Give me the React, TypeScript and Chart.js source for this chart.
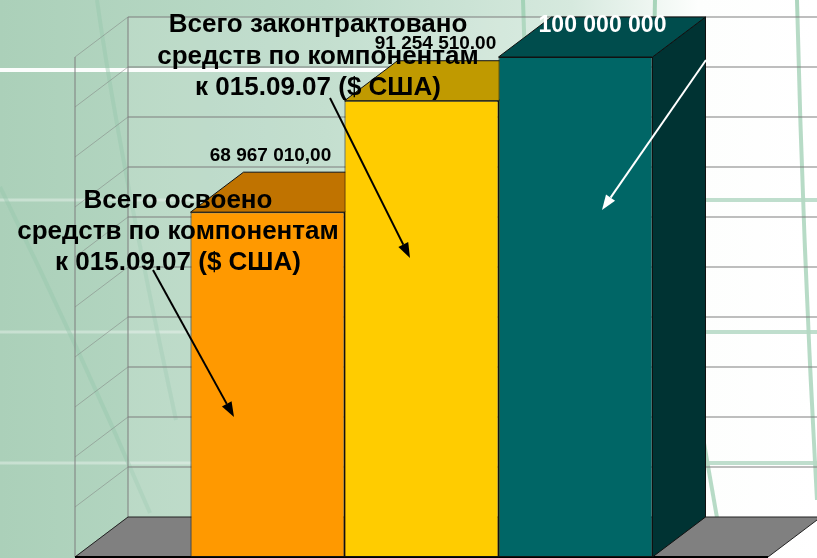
import React, { useEffect, useRef } from "react";
import { Chart, registerables } from "chart.js";

Chart.register(...registerables);

// ---- data ----
const CATEGORIES = ["015.09.07"];
const SERIES_NAMES = ["Всего освоено", "Всего законтрактовано", "Всего"];
const SERIES_VALUES = [68967010, 91254510, 100000000];
const VALUE_LABELS = ["68 967 010,00", "91 254 510.00", "100 000 000"];
const Y_MIN = 0;
const Y_MAX = 100000000;
const Y_STEP = 10000000;
const NOTE_SPENT = ["Всего освоено", "средств по компонентам", "к 015.09.07 ($ США)"];
const NOTE_CONTRACTED = ["Всего законтрактовано", "средств по компонентам", "к 015.09.07 ($ США)"];

// ---- style ----
const FRONT_COLORS = ["#FF9900", "#FFCC00", "#006666"];
const TOP_COLORS = ["#C07300", "#C09A00", "#004D4D"];
const SIDE_COLORS = ["#A05F00", "#A08000", "#003333"];
const LABEL_COLORS = ["#000000", "#000000", "#FFFFFF"];
const LABEL_SIZES = [19, 19, 23];
const LABEL_DX = [3, 14, 27];
const LABEL_DY = [-51, -52, -25];
const DEPTH_X = 53;
const DEPTH_Y = -40;
const FONT = '"Liberation Sans", Arial, sans-serif';

function arrow(ctx: CanvasRenderingContext2D, x1: number, y1: number, x2: number, y2: number, color: string) {
  const ang = Math.atan2(y2 - y1, x2 - x1);
  const len = 15;
  const hw = 5.5;
  const bx = x2 - Math.cos(ang) * len;
  const by = y2 - Math.sin(ang) * len;
  ctx.save();
  ctx.strokeStyle = color;
  ctx.fillStyle = color;
  ctx.lineWidth = 2;
  ctx.beginPath();
  ctx.moveTo(x1, y1);
  ctx.lineTo(bx, by);
  ctx.stroke();
  ctx.beginPath();
  ctx.moveTo(x2, y2);
  ctx.lineTo(bx + Math.sin(ang) * hw, by - Math.cos(ang) * hw);
  ctx.lineTo(bx - Math.sin(ang) * hw, by + Math.cos(ang) * hw);
  ctx.closePath();
  ctx.fill();
  ctx.restore();
}

function line(ctx: CanvasRenderingContext2D, pts: number[][], color: string, w: number) {
  ctx.save();
  ctx.strokeStyle = color;
  ctx.lineWidth = w;
  ctx.beginPath();
  ctx.moveTo(pts[0][0], pts[0][1]);
  if (pts.length === 3) ctx.quadraticCurveTo(pts[1][0], pts[1][1], pts[2][0], pts[2][1]);
  else for (let i = 1; i < pts.length; i++) ctx.lineTo(pts[i][0], pts[i][1]);
  ctx.stroke();
  ctx.restore();
}

function poly(ctx: CanvasRenderingContext2D, pts: number[][], fill: string, stroke?: string) {
  ctx.beginPath();
  ctx.moveTo(pts[0][0], pts[0][1]);
  for (let i = 1; i < pts.length; i++) ctx.lineTo(pts[i][0], pts[i][1]);
  ctx.closePath();
  ctx.fillStyle = fill;
  ctx.fill();
  if (stroke) {
    ctx.strokeStyle = stroke;
    ctx.lineWidth = 1;
    ctx.stroke();
  }
}

const depthPlugin = {
  id: "depth3d",
  beforeDraw(chart: any) {
    const { ctx, width: W, height: H, chartArea: a, scales } = chart;
    const y = scales.y;
    ctx.save();
    // slide background
    const g = ctx.createLinearGradient(0, 0, W, 0);
    g.addColorStop(0, "#abd0b9");
    g.addColorStop(0.4, "#bcdbc9");
    g.addColorStop(0.7, "#d6e9de");
    g.addColorStop(0.855, "#fdfefd");
    g.addColorStop(1, "#ffffff");
    ctx.fillStyle = g;
    ctx.fillRect(0, 0, W, H);

    // decorations
    line(ctx, [[0, 70], [705, 70]], "rgba(255,255,255,0.95)", 4);
    [200, 332, 463].forEach((yy) => {
      line(ctx, [[0, yy], [705, yy]], "rgba(255,255,255,0.35)", 3);
      line(ctx, [[705, yy], [W, yy]], "rgba(170,212,188,0.85)", 4);
    });
    line(ctx, [[97, 0], [118, 150], [176, 420]], "rgba(150,200,172,0.45)", 4);
    line(ctx, [[0, 187], [80, 350], [150, 513]], "rgba(150,200,172,0.45)", 4);
    line(ctx, [[523, 0], [526, 100], [530, 200]], "rgba(160,208,180,0.9)", 4);
    line(ctx, [[655, 0], [654, 60], [653, 100]], "rgba(160,208,180,0.9)", 4);
    line(ctx, [[797, 0], [803, 250], [817, 500]], "rgba(170,212,188,0.95)", 4);
    line(ctx, [[700, 420], [712, 490], [724, 558]], "rgba(170,212,188,0.95)", 4);

    // back wall tint
    const bl = a.left + DEPTH_X;
    const top0 = y.getPixelForValue(Y_MAX) + DEPTH_Y;
    const bot0 = y.getPixelForValue(Y_MIN) + DEPTH_Y;
    ctx.fillStyle = "rgba(255,255,255,0.12)";
    ctx.fillRect(bl, top0, W - bl, bot0 - top0);

    // grid lines
    for (let v = Y_MIN; v <= Y_MAX; v += Y_STEP) {
      const yf = y.getPixelForValue(v);
      const yb = yf + DEPTH_Y;
      if (v > Y_MIN) line(ctx, [[bl, yb], [W, yb]], "rgba(125,125,125,0.5)", 2);
      line(ctx, [[a.left, yf], [bl, yb]], "rgba(125,125,125,0.5)", 1);
    }
    line(ctx, [[a.left, y.getPixelForValue(Y_MAX)], [a.left, y.getPixelForValue(Y_MIN)]], "rgba(125,125,125,0.5)", 2);
    line(ctx, [[bl, top0], [bl, bot0]], "rgba(125,125,125,0.5)", 2);

    // floor
    const yf0 = y.getPixelForValue(Y_MIN);
    poly(ctx, [[a.left, yf0], [a.right, yf0], [a.right + DEPTH_X, yf0 + DEPTH_Y], [a.left + DEPTH_X, yf0 + DEPTH_Y]], "#808080", "#222222");
    line(ctx, [[a.left, yf0], [a.right, yf0]], "#000000", 2);
    ctx.restore();
  },
  beforeDatasetsDraw(chart: any) {
    const { ctx } = chart;
    ctx.save();
    chart.data.datasets.forEach((ds: any, i: number) => {
      const meta = chart.getDatasetMeta(i);
      meta.data.forEach((bar: any) => {
        const { x, y, base, width } = bar.getProps(["x", "y", "base", "width"], true);
        const x0 = x - width / 2;
        const x1 = x + width / 2;
        poly(ctx, [[x1, y], [x1 + DEPTH_X, y + DEPTH_Y], [x1 + DEPTH_X, base + DEPTH_Y], [x1, base]], SIDE_COLORS[i], "#111111");
        poly(ctx, [[x0, y], [x1, y], [x1 + DEPTH_X, y + DEPTH_Y], [x0 + DEPTH_X, y + DEPTH_Y]], TOP_COLORS[i], "#111111");
      });
    });
    ctx.restore();
  },
  afterDraw(chart: any) {
    const { ctx } = chart;
    ctx.save();
    // value labels
    chart.data.datasets.forEach((ds: any, i: number) => {
      const meta = chart.getDatasetMeta(i);
      const bar = meta.data[0];
      const { x, y } = bar.getProps(["x", "y"], true);
      ctx.font = `bold ${LABEL_SIZES[i]}px ${FONT}`;
      ctx.fillStyle = LABEL_COLORS[i];
      ctx.textAlign = "center";
      ctx.textBaseline = "alphabetic";
      ctx.fillText(VALUE_LABELS[i], x + LABEL_DX[i], y + LABEL_DY[i]);
    });
    // notes
    ctx.font = `bold 26px ${FONT}`;
    ctx.fillStyle = "#000000";
    ctx.textAlign = "center";
    NOTE_CONTRACTED.forEach((t, k) => ctx.fillText(t, 318, 32 + k * 31.5));
    NOTE_SPENT.forEach((t, k) => ctx.fillText(t, 178, 208 + k * 31));
    // arrows
    arrow(ctx, 330, 98, 410, 258, "#000000");
    arrow(ctx, 153, 270, 234, 417, "#000000");
    arrow(ctx, 706, 60, 602, 210, "#FFFFFF");
    ctx.restore();
  },
};

export default function App() {
  const ref = useRef<HTMLCanvasElement | null>(null);
  useEffect(() => {
    if (!ref.current) return;
    const chart = new Chart(ref.current, {
      type: "bar",
      data: {
        labels: CATEGORIES,
        datasets: SERIES_VALUES.map((v, i) => ({
          label: SERIES_NAMES[i],
          data: [v],
          backgroundColor: FRONT_COLORS[i],
          borderColor: "#111111",
          borderWidth: 1,
          borderSkipped: false,
          categoryPercentage: 2 / 3,
          barPercentage: 1,
        })),
      },
      options: {
        responsive: false,
        animation: false,
        devicePixelRatio: 1,
        layout: { padding: { left: 75, right: 49, top: 57, bottom: 1 } },
        scales: {
          x: { display: false },
          y: { display: false, min: Y_MIN, max: Y_MAX, ticks: { stepSize: Y_STEP } },
        },
        plugins: { legend: { display: false }, tooltip: { enabled: false } },
      },
      plugins: [depthPlugin],
    });
    return () => chart.destroy();
  }, []);
  return (
    <div style={{ position: "absolute", left: 0, top: 0, width: 817, height: 558 }}>
      <canvas ref={ref} width={817} height={558} style={{ display: "block" }} />
    </div>
  );
}
